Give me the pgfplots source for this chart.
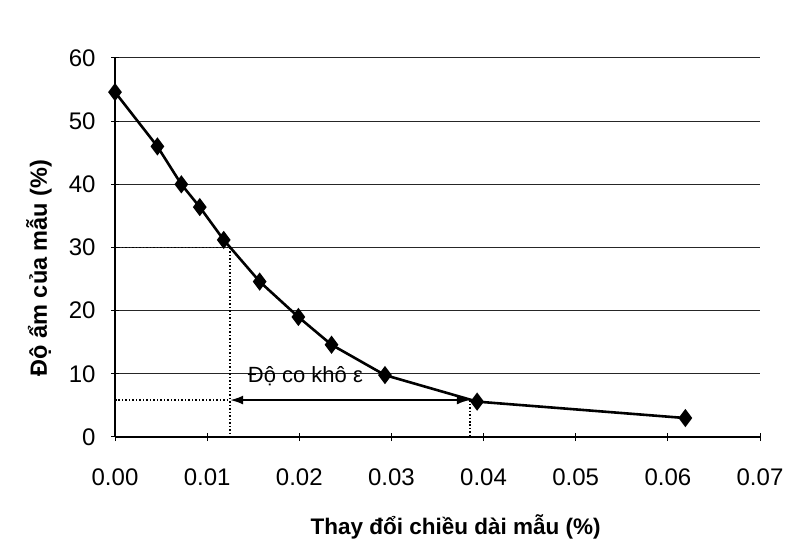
\documentclass[border=0pt]{standalone}
\usepackage{pgfplots}
\pgfplotsset{compat=1.18}
\usepackage{fontspec}
\setmainfont{Liberation Sans}
\usetikzlibrary{arrows.meta}
\begin{document}
\begin{tikzpicture}
\useasboundingbox (0,0) rectangle (790bp,549bp);
\begin{axis}[
  at={(115bp,112bp)}, anchor=south west,
  width=645bp, height=379bp, scale only axis,
  xmin=0, xmax=0.07, ymin=0, ymax=60,
  xtick={0,0.01,...,0.07}, ytick={0,10,...,60},
  axis lines=left, axis line style={-, line width=1.2bp, black},
  ymajorgrids, grid style={line width=1bp, black!85},
  tick align=center, major tick length=8bp,
  tick style={line width=1bp, black},
  tick label style={font=\fontsize{24bp}{26bp}\selectfont},
  /pgf/number format/assume math mode=true,
  xticklabel style={/pgf/number format/.cd, fixed, fixed zerofill, precision=2, /tikz/.cd, yshift=-24bp},
  yticklabel style={xshift=-12bp},
  scaled x ticks=false,
  xlabel={\bfseries Thay đổi chiều dài mẫu (\%)},
  ylabel={\bfseries Độ ẩm của mẫu (\%)},
  xlabel style={at={(axis description cs:0.528,-0.237)}, anchor=center, font=\fontsize{22.5bp}{26bp}\selectfont},
  ylabel style={at={(axis description cs:-0.118,0.446)}, anchor=center, font=\fontsize{23.5bp}{26bp}\selectfont},
  clip=false,
]
% guide lines
\addplot[black, dotted, line width=1.5bp] coordinates {(0,30) (0.0125,30) (0.0125,0)};
\addplot[black, dotted, line width=1.5bp] coordinates {(0,5.85) (0.0125,5.85)};
\addplot[black, dotted, line width=1.5bp] coordinates {(0.0385,5.85) (0.0385,0)};
\addplot[black, line width=1.8bp, {Latex[length=13bp,width=9bp]}-{Latex[length=13bp,width=9bp]}] coordinates {(0.0125,5.85) (0.0385,5.85)};
\node[anchor=west, font=\fontsize{22bp}{24bp}\selectfont, inner sep=0pt] at (axis cs:0.0144,9.7) {Độ co khô ε};
% data
\addplot[black, line width=2.6bp, mark=diamond*, mark size=7bp, mark options={solid, fill=black}] coordinates {
(0,54.6) (0.0046,46.0) (0.0072,40.0) (0.0092,36.4) (0.0118,31.2) (0.0157,24.6)
(0.0199,19.0) (0.0235,14.6) (0.0293,9.8) (0.0393,5.6) (0.0619,3.0)
};
\end{axis}
\end{tikzpicture}
\end{document}
